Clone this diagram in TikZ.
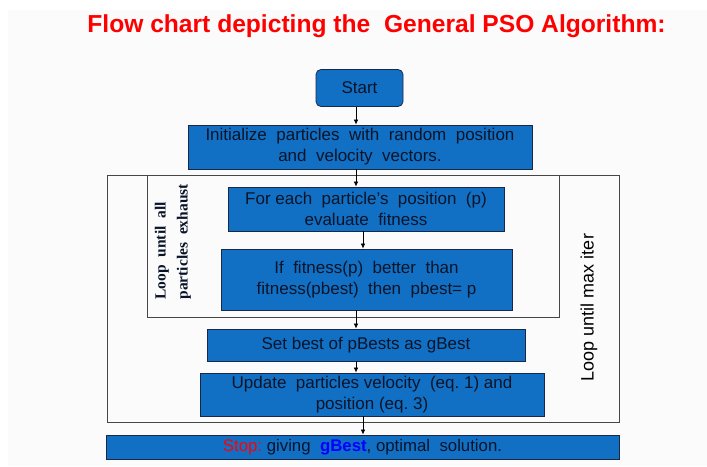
\documentclass[tikz,border=0pt]{standalone}
\usepackage{fontspec}
\setmainfont{Liberation Sans}
\newfontfamily\timesfont{Liberation Serif}
\usetikzlibrary{arrows.meta}
\definecolor{boxblue}{RGB}{18,112,196}
\definecolor{boxline}{RGB}{25,40,70}
\definecolor{txtdark}{RGB}{10,20,40}
\definecolor{titlered}{RGB}{255,0,0}
\definecolor{gbestblue}{RGB}{0,0,255}
\definecolor{framegray}{RGB}{70,70,70}
\tikzset{
  procbox/.style={draw=boxline, line width=0.8pt, fill=boxblue, text=txtdark,
    align=center, inner sep=0pt, font=\fontsize{17}{19}\selectfont},
  frame/.style={draw=framegray, line width=0.9pt},
  arr/.style={draw=black, line width=0.7pt, -{Latex[length=5pt,width=4.5pt]}}
}
\begin{document}
\begin{tikzpicture}[x=1pt,y=-1pt]
\useasboundingbox (0,0) rectangle (707,466);
\fill[gray!3] (8,10) rectangle (707,466);
% title
\node[anchor=base, text=titlered, font=\fontsize{24.6}{26}\selectfont\bfseries] (title) at (376.5,32) {Flow chart depicting the\ \ General PSO Algorithm:};
% frames
\draw[frame] (107,175) rectangle (619,422);
\draw[frame] (147,175) rectangle (559,317);
% boxes
\node[procbox, rounded corners=5pt, minimum width=87, minimum height=37] (start) at (359.5,88) {Start};
\node[procbox, minimum width=344, minimum height=44, font=\fontsize{17}{21}\selectfont] (init) at (360,147) {Initialize\ \ particles\ \ with\ \ random\ \ position\\and\ \ velocity\ \ vectors.};
\node[procbox, minimum width=276, minimum height=44, font=\fontsize{17}{21}\selectfont] (each) at (366,209) {For\ each\ \ particle’s\ \ position\ \ (p)\\evaluate\ \ fitness};
\node[procbox, minimum width=291, minimum height=61, font=\fontsize{17}{21}\selectfont] (ifb) at (366.5,279.5) {If\ \ fitness(p)\ \ better\ \ than\\fitness(pbest)\ \ then\ \ pbest=\ p};
\node[procbox, minimum width=318, minimum height=32] (setb) at (366,345) {Set best of pBests as gBest};
\node[procbox, minimum width=344, minimum height=43, font=\fontsize{17}{21}\selectfont] (upd) at (372,394.5) {Update\ \ particles velocity\ \ (eq.\ 1) and\\position (eq.\ 3)};
\node[procbox, minimum width=513, minimum height=24, font=\fontsize{16.8}{18}\selectfont] (stop) at (362.5,447) {\textcolor{titlered}{Stop:}\ giving\ \ \textcolor{gbestblue}{\bfseries gBest}, optimal\ \ solution.};
% loop labels
\node[rotate=90, anchor=center, text=black, font=\fontsize{18}{20}\selectfont] (outerlbl) at (589,307.5) {Loop until max iter};
\node[rotate=90, anchor=west, align=left, text=txtdark, font=\timesfont\bfseries\fontsize{15.5}{22}\selectfont] (innerlbl) at (173,303) {Loop\ \ until\ \ all\\particles\ \ exhaust};
% connectors
\draw[arr] (start.south -| 356,0) -- (init.north -| 356,0);
\draw[arr] (init.south -| 356,0) -- (each.north -| 356,0);
\draw[arr] (each.south -| 363,0) -- (ifb.north -| 363,0);
\draw[arr] (ifb.south -| 356,0) -- (setb.north -| 356,0);
\draw[arr] (setb.south -| 356,0) -- (upd.north -| 356,0);
\draw[arr] (upd.south -| 363,0) -- (stop.north -| 363,0);
\end{tikzpicture}
\end{document}
